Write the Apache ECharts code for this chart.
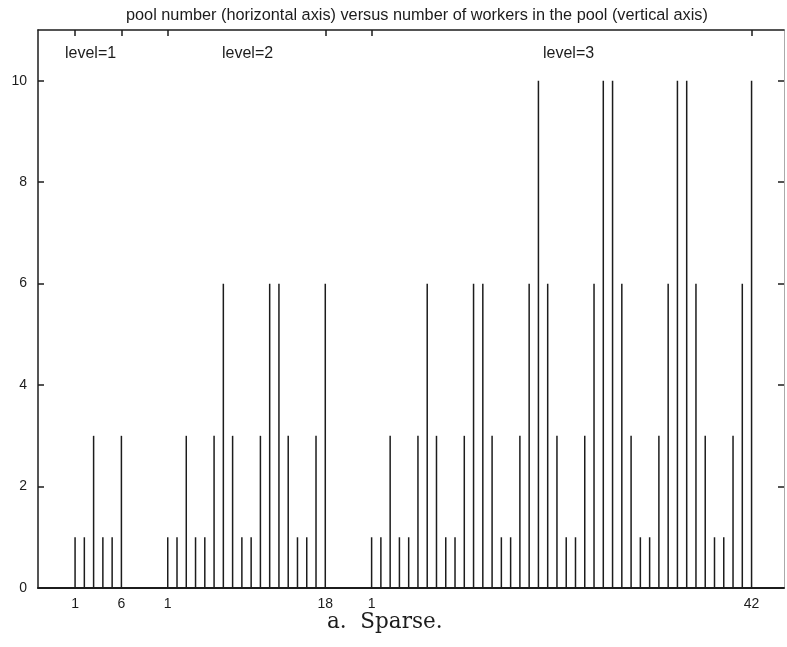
<!DOCTYPE html>
<html>
<head>
<meta charset="utf-8">
<title>pool sizes</title>
<script src="https://cdn.jsdelivr.net/npm/echarts@6/dist/echarts.min.js"></script>
<style>
  html, body { margin: 0; padding: 0; background: #fff; }
  #chart { width: 787px; height: 647px; }
</style>
</head>
<body>
<div id="chart"></div>
<script>
  // workers per pool, one list per level
  var levelNames = ['level=1', 'level=2', 'level=3']
  var level1 = [1, 1, 3, 1, 1, 3]
  var level2 = [1, 1, 3, 1, 1, 3, 6, 3, 1, 1, 3, 6, 6, 3, 1, 1, 3, 6]
  var level3 = [1, 1, 3, 1, 1, 3, 6, 3, 1, 1, 3, 6, 6, 3, 1, 1, 3, 6, 10, 6, 3,
    1, 1, 3, 6, 10, 10, 6, 3, 1, 1, 3, 6, 10, 10, 6, 3, 1, 1, 3, 6, 10]
  var yTicks = [0, 2, 4, 6, 8, 10]

  var levels = [level1, level2, level3]
  var GAP = 4 // empty slots between levels
  var points = []
  var tickPos = []
  var tickText = {}
  var slot = 4
  levels.forEach(function (lv) {
    tickPos.push(slot)
    tickText[slot] = '1'
    lv.forEach(function (v) {
      points.push([slot, v])
      slot++
    })
    tickPos.push(slot - 1)
    tickText[slot - 1] = String(lv.length)
    slot += GAP
  })

  var ink = '#1c1c1c'
  var sans = 'Liberation Sans'
  var chart = echarts.init(document.getElementById('chart'))
  chart.setOption({
    backgroundColor: '#fff',
    animation: false,
    title: {
      text: 'pool number (horizontal axis) versus number of workers in the pool (vertical axis)',
      left: 121,
      top: 3,
      textStyle: { fontFamily: sans, fontSize: 16.3, fontWeight: 'normal', color: ink }
    },
    grid: { left: 38, right: 3, top: 30, bottom: 59, containLabel: false },
    xAxis: [{
      type: 'value',
      min: 0,
      max: 80.5,
      position: 'bottom',
      splitLine: { show: false },
      axisLine: { onZero: false, lineStyle: { color: ink, width: 2 } },
      axisTick: { show: false },
      axisLabel: {
        customValues: tickPos,
        formatter: function (v) { return tickText[v] || '' },
        margin: 9,
        fontFamily: sans,
        fontSize: 14,
        color: ink
      }
    }, {
      type: 'value',
      min: 0,
      max: 80.5,
      position: 'top',
      splitLine: { show: false },
      axisLine: { onZero: false, lineStyle: { color: ink, width: 1.5 } },
      axisTick: { inside: true, length: 6, customValues: tickPos, lineStyle: { color: ink, width: 1.5 } },
      axisLabel: { show: false }
    }],
    yAxis: [{
      type: 'value',
      min: 0,
      max: 11,
      position: 'left',
      splitLine: { show: false },
      axisLine: { show: true, onZero: false, lineStyle: { color: ink, width: 1.5 } },
      axisTick: { inside: true, length: 6, customValues: yTicks, lineStyle: { color: ink, width: 1.5 } },
      axisLabel: { customValues: yTicks, margin: 11, fontFamily: sans, fontSize: 14, color: ink }
    }, {
      type: 'value',
      min: 0,
      max: 11,
      position: 'right',
      splitLine: { show: false },
      axisLine: { show: true, onZero: false, lineStyle: { color: '#aaa', width: 1 } },
      axisTick: { inside: true, length: 6, customValues: yTicks, lineStyle: { color: ink, width: 1.5 } },
      axisLabel: { show: false }
    }],
    series: [{
      type: 'bar',
      data: points,
      barWidth: 1.5,
      itemStyle: { color: ink }
    }],
    graphic: [
      { type: 'text', left: 65, top: 46, style: { text: levelNames[0], font: '16px "Liberation Sans"', fill: ink } },
      { type: 'text', left: 222, top: 46, style: { text: levelNames[1], font: '16px "Liberation Sans"', fill: ink } },
      { type: 'text', left: 543, top: 46, style: { text: levelNames[2], font: '16px "Liberation Sans"', fill: ink } },
      { type: 'text', left: 327, top: 611, style: { text: 'a.  Sparse.', font: '21.5px "DejaVu Serif"', fill: ink } }
    ]
  })
</script>
</body>
</html>
